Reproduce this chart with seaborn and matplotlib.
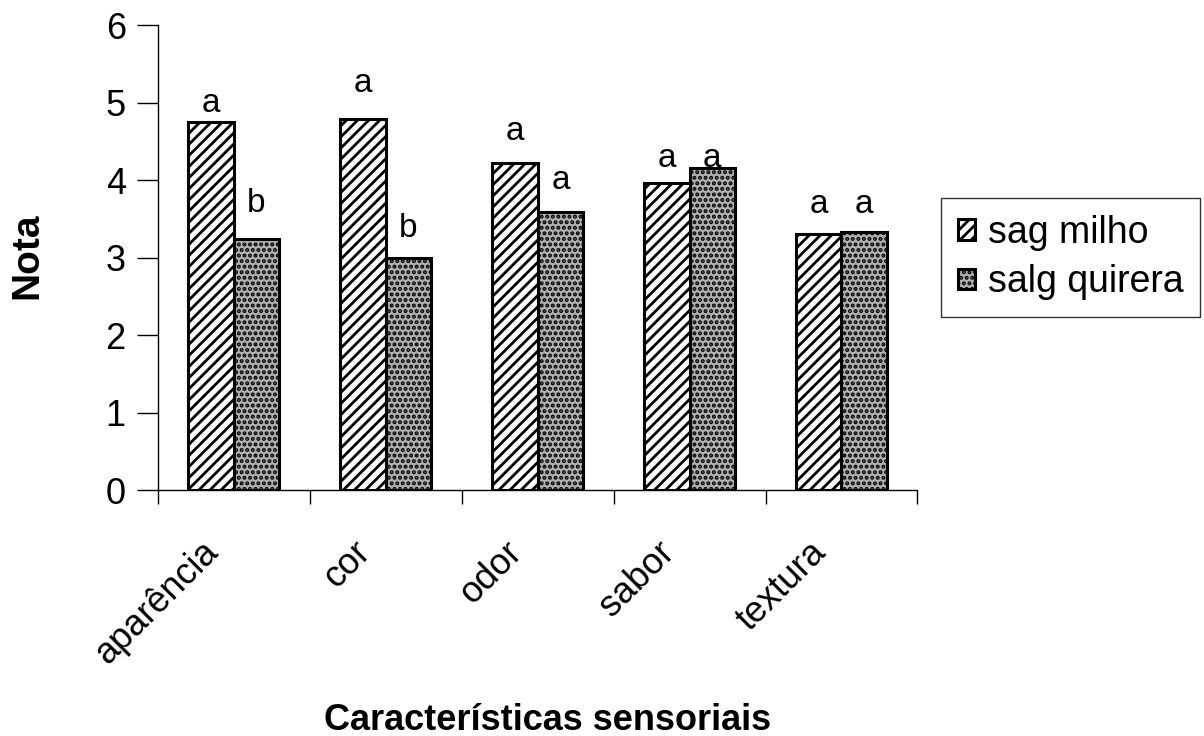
import pandas as pd
import seaborn as sns
import matplotlib.pyplot as plt
import matplotlib.transforms as mtransforms

# ----- data -----
caracteristicas = ['aparência', 'cor', 'odor', 'sabor', 'textura']
sag_milho = [4.75, 4.79, 4.22, 3.96, 3.30]
salg_quirera = [3.24, 2.99, 3.59, 4.15, 3.33]
letras_milho = ['a', 'a', 'a', 'a', 'a']
letras_quirera = ['b', 'b', 'a', 'a', 'a']
# height (in Nota units) where each letter sits
letra_y_milho = [4.99, 5.24, 4.63, 4.28, 3.68]
letra_y_quirera = [3.70, 3.38, 4.00, 4.28, 3.68]

series = ['sag milho', 'salg quirera']

df = pd.DataFrame({
    'caracteristica': caracteristicas * 2,
    'nota': sag_milho + salg_quirera,
    'amostra': [series[0]] * len(caracteristicas) + [series[1]] * len(caracteristicas),
})

# ----- figure configuration -----
sns.set_style('white')
plt.rcParams['font.family'] = ['Liberation Sans', 'DejaVu Sans']
plt.rcParams['text.color'] = 'black'
plt.rcParams['axes.labelcolor'] = 'black'
plt.rcParams['xtick.color'] = 'black'
plt.rcParams['ytick.color'] = 'black'
plt.rcParams['hatch.linewidth'] = 2.0
fs = 26

fig = plt.figure(figsize=(12.04, 7.36), dpi=100)
ax = fig.add_axes([0.131, 0.334, 0.631, 0.632])

sns.barplot(data=df, x='caracteristica', y='nota', hue='amostra',
            hue_order=series, order=caracteristicas,
            palette=['white', '#b0b0b0'], width=0.6, gap=0,
            edgecolor='black', linewidth=2.2, ax=ax, legend=False)

hatches = ['///', '...']
for cont, h in zip(ax.containers, hatches):
    for bar in cont:
        bar.set_hatch(h)

# letters above the bars
for cont, letras, ys in zip(ax.containers, [letras_milho, letras_quirera],
                            [letra_y_milho, letra_y_quirera]):
    for bar, txt, yy in zip(cont, letras, ys):
        ax.text(bar.get_x() + bar.get_width() / 2, yy, txt,
                ha='center', va='center', fontsize=24)

ax.set_ylim(0, 6)
ax.set_xlim(-0.5, len(caracteristicas) - 0.5)
ax.set_yticks(range(0, 7))
ax.set_xticks([i - 0.5 for i in range(len(caracteristicas) + 1)], minor=True)
ax.set_xticks(range(len(caracteristicas)))
ax.set_xticklabels(caracteristicas, rotation=45, ha='right',
                   rotation_mode='anchor', fontsize=fs)
ax.tick_params(axis='x', which='major', length=0, pad=32)
ax.tick_params(axis='x', which='minor', length=10, width=1, color='black',
               direction='out', bottom=True)
ax.tick_params(axis='y', length=15, width=1, color='black', direction='out',
               left=True, labelsize=fs, pad=8)

shift = mtransforms.ScaledTranslation(-33 / 100, 0, fig.dpi_scale_trans)
for lab in ax.get_xticklabels():
    lab.set_transform(lab.get_transform() + shift)

sns.despine(ax=ax)
for s in ['left', 'bottom']:
    ax.spines[s].set_color('black')
    ax.spines[s].set_linewidth(1)

ax.set_ylabel('Nota', fontsize=28, fontweight='bold')
ax.yaxis.set_label_coords(-0.171, 0.505)
ax.yaxis.label.set_va('center')
ax.set_xlabel('Características sensoriais', fontsize=fs, fontweight='bold')
ax.xaxis.set_label_coords(0.513, -0.495)
ax.xaxis.label.set_va('center')

leg = ax.legend(ax.containers, series, loc='upper left',
                bbox_to_anchor=(0.7816, 0.731), bbox_transform=fig.transFigure,
                borderaxespad=0, fontsize=27, frameon=True, fancybox=False,
                edgecolor='black', handlelength=0.45, handleheight=0.45,
                handletextpad=0.35, borderpad=0.45, labelspacing=0.35)
leg.get_frame().set_linewidth(1)

fig.savefig('out.png', dpi=100)
